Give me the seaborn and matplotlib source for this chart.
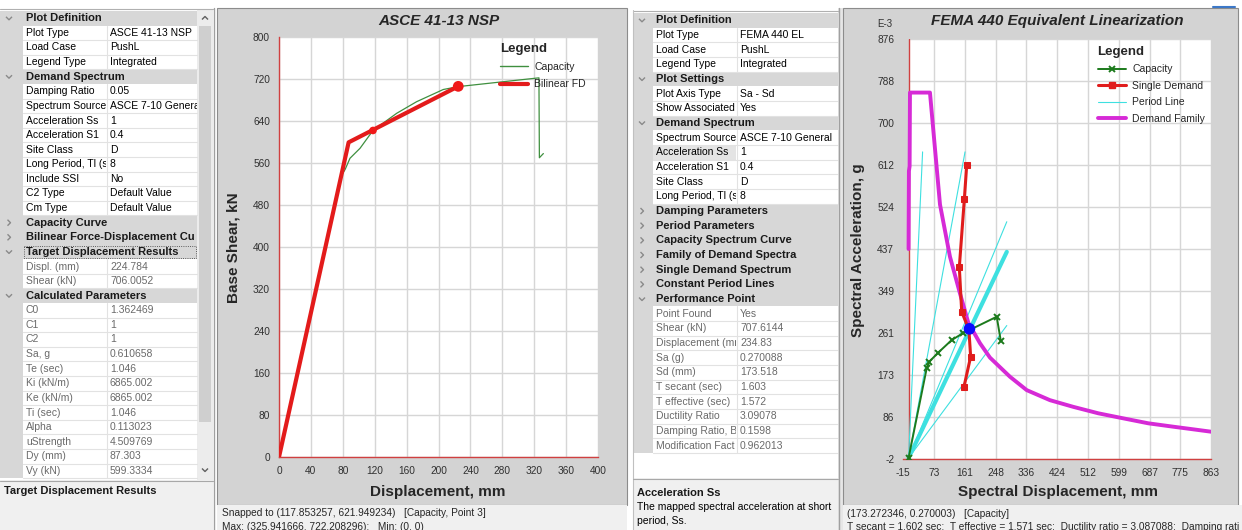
import matplotlib
matplotlib.use("Agg")
import matplotlib.pyplot as plt
from matplotlib.patches import Rectangle
from matplotlib.lines import Line2D
import seaborn as sns

# ---------------- ASCE 41-13 NSP: pushover capacity and bilinear idealisation ----------------
cap_disp = [0, 78, 83, 89, 101.6, 117.85, 147.6, 172.6, 206, 224.8, 325.94, 326.5, 331.5]
cap_shear = [0, 535, 548, 569, 588, 621.95, 654.7, 676.8, 700, 705.5, 722.21, 570, 578]
bilin_disp = [0, 87.303, 224.784]
bilin_shear = [0, 599.3334, 706.0052]
target_point = [224.784, 706.0052]
snap_point = [117.853257, 621.949234]
nsp_xticks = [0, 40, 80, 120, 160, 200, 240, 280, 320, 360, 400]
nsp_yticks = [0, 80, 160, 240, 320, 400, 480, 560, 640, 720, 800]

# ---------------- FEMA 440 equivalent linearization (Sd in mm, Sa in g) ----------------
cs_sd = [0, 51.7, 59.0, 84.0, 123.0, 154.4, 251.3, 263.0]
cs_sa = [0, 0.1876, 0.2014, 0.2200, 0.2467, 0.2607, 0.2954, 0.2446]
single_sd = [158, 177, 172, 151.5, 144.7, 159, 165.7]
single_sa = [0.149, 0.212, 0.268, 0.306, 0.399, 0.541, 0.612]
family_sd = [0, 1, 3, 4, 61, 70.5, 89.6, 118, 146.6, 170.3, 203.6, 232, 289, 336.8, 403,
             469.7, 541, 612, 683.5, 754.8, 811.8, 863]
family_sa = [0.437, 0.600, 0.610, 0.764, 0.764, 0.686, 0.530, 0.421, 0.344, 0.283, 0.240,
             0.210, 0.170, 0.142, 0.121, 0.107, 0.0935, 0.083, 0.0726, 0.0655, 0.060, 0.055]
period_end_sd = [40, 161, 280, 280, 280]
period_end_sa = [0.640, 0.640, 0.494, 0.431, 0.277]
period_bold = [False, False, False, True, False]
perf_sd = 173.518
perf_sa = 0.270088
el_xtick_labels = ["-15", "73", "161", "248", "336", "424", "512", "599", "687", "775", "863"]
el_ytick_labels = ["-2", "86", "173", "261", "349", "437", "524", "612", "700", "788", "876"]

# ---------------- property grids (text as it fits in the narrow columns) ----------------
nsp_props = [
    ("Plot Definition", None, "open"),
    ("Plot Type", "ASCE 41-13 NSP", "edit"),
    ("Load Case", "PushL", "edit"),
    ("Legend Type", "Integrated", "edit"),
    ("Demand Spectrum", None, "open"),
    ("Damping Ratio", "0.05", "edit"),
    ("Spectrum Source", "ASCE 7-10 Genera", "edit"),
    ("Acceleration Ss", "1", "edit"),
    ("Acceleration S1", "0.4", "edit"),
    ("Site Class", "D", "edit"),
    ("Long Period, Tl (s", "8", "edit"),
    ("Include SSI", "No", "edit"),
    ("C2 Type", "Default Value", "edit"),
    ("Cm Type", "Default Value", "edit"),
    ("Capacity Curve", None, "closed"),
    ("Bilinear Force-Displacement Cu", None, "closed"),
    ("Target Displacement Results", None, "open"),
    ("Displ. (mm)", "224.784", "read"),
    ("Shear (kN)", "706.0052", "read"),
    ("Calculated Parameters", None, "open"),
    ("C0", "1.362469", "read"),
    ("C1", "1", "read"),
    ("C2", "1", "read"),
    ("Sa, g", "0.610658", "read"),
    ("Te (sec)", "1.046", "read"),
    ("Ki (kN/m)", "6865.002", "read"),
    ("Ke (kN/m)", "6865.002", "read"),
    ("Ti (sec)", "1.046", "read"),
    ("Alpha", "0.113023", "read"),
    ("uStrength", "4.509769", "read"),
    ("Dy (mm)", "87.303", "read"),
    ("Vy (kN)", "599.3334", "read"),
]
el_props = [
    ("Plot Definition", None, "open"),
    ("Plot Type", "FEMA 440 EL", "edit"),
    ("Load Case", "PushL", "edit"),
    ("Legend Type", "Integrated", "edit"),
    ("Plot Settings", None, "open"),
    ("Plot Axis Type", "Sa - Sd", "edit"),
    ("Show Associated", "Yes", "edit"),
    ("Demand Spectrum", None, "open"),
    ("Spectrum Source", "ASCE 7-10 General", "edit"),
    ("Acceleration Ss", "1", "select"),
    ("Acceleration S1", "0.4", "edit"),
    ("Site Class", "D", "edit"),
    ("Long Period, Tl (s", "8", "edit"),
    ("Damping Parameters", None, "closed"),
    ("Period Parameters", None, "closed"),
    ("Capacity Spectrum Curve", None, "closed"),
    ("Family of Demand Spectra", None, "closed"),
    ("Single Demand Spectrum", None, "closed"),
    ("Constant Period Lines", None, "closed"),
    ("Performance Point", None, "open"),
    ("Point Found", "Yes", "read"),
    ("Shear (kN)", "707.6144", "read"),
    ("Displacement (mr", "234.83", "read"),
    ("Sa (g)", "0.270088", "read"),
    ("Sd (mm)", "173.518", "read"),
    ("T secant (sec)", "1.603", "read"),
    ("T effective (sec)", "1.572", "read"),
    ("Ductility Ratio", "3.09078", "read"),
    ("Damping Ratio, B", "0.1598", "read"),
    ("Modification Fact", "0.962013", "read"),
]

nsp_status = ["Snapped to (117.853257, 621.949234)   [Capacity, Point 3]",
              "Max: (325.941666, 722.208296);   Min: (0, 0)"]
el_status = ["(173.272346, 0.270003)   [Capacity]",
             "T secant = 1.602 sec;  T effective = 1.571 sec;  Ductility ratio = 3.087088;  Damping rati"]

# ---------------- styling ----------------
sns.set_style("white")
plt.rcParams["font.family"] = ["Liberation Sans", "DejaVu Sans"]

W, H = 1242, 530
FRAME = "#d3d3d3"
STATUS = "#f0f0f0"
CAT = "#d7d7d7"
GRIDLINE = "#e2e2e2"
READ = "#6a6a6a"
SPINE = "#d04040"

fig = plt.figure(figsize=(W / 100, H / 100), dpi=100)
fig.patch.set_facecolor("white")

canvas = fig.add_axes([0, 0, 1, 1])
canvas.set_xlim(0, W)
canvas.set_ylim(H, 0)
canvas.axis("off")


def rect(x0, y0, x1, y1, fc, ec="none", lw=0.0, **kw):
    p = Rectangle((x0, y0), x1 - x0, y1 - y0, facecolor=fc, edgecolor=ec, linewidth=lw, **kw)
    canvas.add_patch(p)
    return p


def cell_text(x, y, s, clip, **kw):
    t = canvas.text(x, y, s, va="center", ha="left", clip_on=True, **kw)
    t.set_clip_path(clip)
    return t


def chevron(cx, cy, kind, color="#8a8a8a"):
    if kind == "open":
        xs, ys = [cx - 3, cx, cx + 3], [cy - 1.5, cy + 1.5, cy - 1.5]
    elif kind == "up":
        xs, ys = [cx - 3, cx, cx + 3], [cy + 1.5, cy - 1.5, cy + 1.5]
    else:
        xs, ys = [cx - 1.5, cx + 1.5, cx - 1.5], [cy - 3, cy, cy + 3]
    canvas.plot(xs, ys, color=color, lw=1.0, solid_capstyle="butt")


def property_grid(rows, x0, x_margin, x_div, x1, c0, dy):
    for i, (label, value, kind) in enumerate(rows):
        cy = c0 + i * dy
        top, bot = cy - dy / 2, cy + dy / 2
        if value is None:
            cell = rect(x0, top, x1, bot, CAT)
            chevron(x0 + 9, cy, kind)
            cell_text(x_margin + 3, cy, label, cell, fontsize=8, fontweight="bold",
                      color="#1a1a1a")
            if label == "Target Displacement Results":
                rect(x_margin + 1, top + 1.5, x1 - 1, bot - 1.5, "none", ec="#333333",
                     lw=0.6, linestyle=":")
        else:
            rect(x0, top, x_margin, bot, CAT)
            lab_fc = "#e4e4e4" if kind == "select" else "white"
            lab_cell = rect(x_margin, top, x_div - 1, bot, lab_fc)
            val_cell = rect(x_div, top, x1, bot, "white")
            canvas.plot([x_margin, x1], [bot, bot], color=GRIDLINE, lw=0.8)
            canvas.plot([x_div, x_div], [top, bot], color=GRIDLINE, lw=0.8)
            col = READ if kind == "read" else "black"
            cell_text(x_margin + 3, cy, label, lab_cell, fontsize=7.5, color=col)
            cell_text(x_div + 3, cy, value, val_cell, fontsize=7.5, color=col)


# ---- left property panel (NSP) ----
rect(0, 9, 197, 480, "white")
property_grid(nsp_props, 0, 23, 107, 197, 18.3, 14.6)
rect(197, 9, 213, 480, "#ececec")
rect(199, 26, 211, 422, "#cfcfcf")
chevron(205, 18, "up", "#606060")
chevron(205, 470, "open", "#606060")
canvas.plot([213.5, 213.5], [8, 530], color="#a0a0a0", lw=1)
canvas.plot([0, 213], [8.5, 8.5], color="#b0b0b0", lw=0.8)
rect(0, 480, 213, 530, STATUS)
canvas.plot([0, 213], [480.5, 480.5], color="#a8a8a8", lw=0.8)
canvas.text(4, 491, "Target Displacement Results", fontsize=8, fontweight="bold",
            va="center", ha="left", color="#1a1a1a")

# ---- right property panel (EL) ----
rect(633, 10, 838, 480, "white")
property_grid(el_props, 633, 653, 737, 838, 20.3, 14.67)
canvas.plot([633, 838], [10.5, 10.5], color="#b0b0b0", lw=0.8)
rect(838, 8, 843, 530, "#e6e6e6")
canvas.plot([838.5, 838.5], [8, 530], color="#a0a0a0", lw=1)
canvas.plot([633, 633], [10, 530], color="#c0c0c0", lw=0.8)
rect(633, 478, 838, 530, STATUS)
canvas.plot([633, 838], [478.5, 478.5], color="#a8a8a8", lw=0.8)
canvas.text(637, 493, "Acceleration Ss", fontsize=8, fontweight="bold",
            va="center", ha="left", color="#1a1a1a")
canvas.text(637, 507, "The mapped spectral acceleration at short", fontsize=7.5,
            va="center", ha="left", color="black")
canvas.text(637, 521, "period, Ss.", fontsize=7.5, va="center", ha="left", color="black")

# ---- chart frames and status bars ----
rect(217, 8, 627, 505, FRAME, ec="#8c8c8c", lw=0.8)
rect(217, 505, 627, 530, STATUS)
canvas.text(222, 513, nsp_status[0], fontsize=7.3, va="center", ha="left")
canvas.text(222, 527, nsp_status[1], fontsize=7.3, va="center", ha="left")

rect(843, 8, 1238, 505, FRAME, ec="#8c8c8c", lw=0.8)
rect(843, 505, 1242, 530, STATUS)
canvas.text(847, 514, el_status[0], fontsize=7.3, va="center", ha="left")
canvas.text(847, 527, el_status[1], fontsize=7.3, va="center", ha="left")
canvas.text(885, 24, "E-3", fontsize=7, va="center", ha="center", color="#303030")
canvas.plot([1213, 1235], [6.5, 6.5], color="#3c78c8", lw=1.5)


def px_axes(x0, x1, y_top, y_bot):
    return fig.add_axes([x0 / W, (H - y_bot) / H, (x1 - x0) / W, (y_bot - y_top) / H])


def style_chart(ax):
    ax.set_facecolor("white")
    ax.set_axisbelow(True)
    ax.grid(True, color="#d6d6d6", lw=1.0)
    for s in ("top", "right"):
        ax.spines[s].set_visible(False)
    for s in ("left", "bottom"):
        ax.spines[s].set_color(SPINE)
        ax.spines[s].set_linewidth(1.0)
    ax.tick_params(direction="out", length=4, width=0.8, color="#404040",
                   labelsize=7.3, labelcolor="#303030", pad=2.5)


# ================= ASCE 41-13 NSP chart =================
ax1 = px_axes(279, 598, 37, 457)
style_chart(ax1)
sns.lineplot(x=cap_disp, y=cap_shear, ax=ax1, sort=False, estimator=None,
             color="#3f8f3f", linewidth=0.9, zorder=3)
sns.lineplot(x=bilin_disp, y=bilin_shear, ax=ax1, sort=False, estimator=None,
             color="#e31b1b", linewidth=3.0, zorder=4)
sns.scatterplot(x=[snap_point[0]], y=[snap_point[1]], ax=ax1, color="#f01818",
                s=30, marker="o", edgecolor="none", zorder=5)
sns.scatterplot(x=[target_point[0]], y=[target_point[1]], ax=ax1, color="#f01818",
                s=60, marker="o", edgecolor="none", zorder=5)
ax1.set_xlim(0, 400)
ax1.set_ylim(0, 800)
ax1.set_xticks(nsp_xticks)
ax1.set_yticks(nsp_yticks)
ax1.set_title("ASCE 41-13 NSP", fontsize=11, fontweight="bold", fontstyle="italic",
              y=(457 - 21) / 420, va="center", pad=0)
ax1.set_xlabel("Displacement, mm", fontsize=11, fontweight="bold")
ax1.set_ylabel("Base Shear, kN", fontsize=11, fontweight="bold")
ax1.xaxis.set_label_coords(0.498, (457 - 492) / 420)
ax1.xaxis.label.set_va("center")
ax1.yaxis.set_label_coords((233 - 279) / 319, (457 - 248) / 420)
ax1.yaxis.label.set_va("center")
nsp_handles = [Line2D([], [], color="#3f8f3f", lw=1.0),
               Line2D([], [], color="#e31b1b", lw=3.0)]
ax1.legend(nsp_handles, ["Capacity", "Bilinear FD"], title="Legend",
           loc="upper left", bbox_to_anchor=((500 - 279) / 319, (457 - 43) / 420),
           frameon=False, fontsize=7.5, handlelength=2.7, handletextpad=0.6,
           labelspacing=0.68, borderpad=0, borderaxespad=0, alignment="left",
           title_fontproperties={"weight": "bold", "size": 9.5})

# ================= FEMA 440 EL chart =================
ax2 = px_axes(903.3, 1211.3, 39, 459)
style_chart(ax2)
ax2.spines["left"].set_visible(False)
ax2.axvspan(-15, 0, color=FRAME, lw=0, zorder=1.5)
ax2.axvline(0, color=SPINE, lw=1.0, zorder=1.6)
for sd_end, sa_end, bold in zip(period_end_sd, period_end_sa, period_bold):
    sns.lineplot(x=[0, sd_end], y=[0, sa_end * 1000], ax=ax2, sort=False, estimator=None,
                 color="#3ee0e0", linewidth=3.0 if bold else 0.8, zorder=2)
sns.lineplot(x=family_sd, y=[v * 1000 for v in family_sa], ax=ax2, sort=False, estimator=None,
             color="#d62ad6", linewidth=2.8, zorder=3)
sns.lineplot(x=single_sd, y=[v * 1000 for v in single_sa], ax=ax2, sort=False, estimator=None,
             color="#e01c1c", linewidth=2.2, marker="s", markersize=4,
             markeredgecolor="#e01c1c", markerfacecolor="#e01c1c", zorder=4)
sns.lineplot(x=cs_sd, y=[v * 1000 for v in cs_sa], ax=ax2, sort=False, estimator=None,
             color="#1c7a1c", linewidth=1.4, marker="x", markersize=5,
             markeredgecolor="#1c7a1c", markeredgewidth=1.4, zorder=5)
sns.scatterplot(x=[perf_sd], y=[perf_sa * 1000], ax=ax2, color="#0a0aff", s=70,
                marker="o", edgecolor="none", zorder=6)
ax2.set_xlim(-15, 863)
ax2.set_ylim(-2, 876)
ax2.set_xticks([float(v) for v in el_xtick_labels])
ax2.set_xticklabels(el_xtick_labels)
ax2.set_yticks([float(v) for v in el_ytick_labels])
ax2.set_yticklabels(el_ytick_labels)
ax2.set_title("FEMA 440 Equivalent Linearization", fontsize=11, fontweight="bold",
              fontstyle="italic", y=(459 - 21) / 420, va="center", pad=0)
ax2.set_xlabel("Spectral Displacement, mm", fontsize=11, fontweight="bold")
ax2.set_ylabel("Spectral Acceleration, g", fontsize=11, fontweight="bold")
ax2.xaxis.set_label_coords((1058 - 903.3) / 308, (459 - 492) / 420)
ax2.xaxis.label.set_va("center")
ax2.yaxis.set_label_coords((858 - 903.3) / 308, (459 - 250) / 420)
ax2.yaxis.label.set_va("center")
el_handles = [Line2D([], [], color="#1c7a1c", lw=1.4, marker="x", markersize=5, mew=1.4),
              Line2D([], [], color="#e01c1c", lw=2.2, marker="s", markersize=4),
              Line2D([], [], color="#3ee0e0", lw=0.8),
              Line2D([], [], color="#d62ad6", lw=2.8)]
ax2.legend(el_handles, ["Capacity", "Single Demand", "Period Line", "Demand Family"],
           title="Legend", loc="upper left",
           bbox_to_anchor=((1097.5 - 903.3) / 308, (459 - 46) / 420),
           frameon=False, fontsize=7.5, handlelength=2.7, handletextpad=0.65,
           labelspacing=0.62, borderpad=0, borderaxespad=0, alignment="left",
           numpoints=1, title_fontproperties={"weight": "bold", "size": 9.5})

fig.savefig("out.png", dpi=100, facecolor="white")
